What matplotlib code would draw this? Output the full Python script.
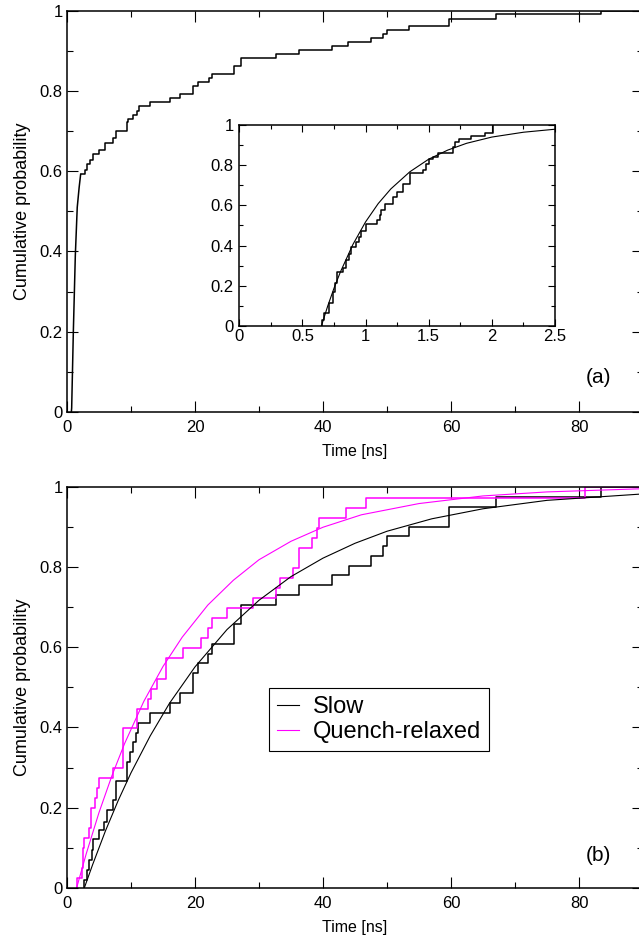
import matplotlib
matplotlib.use("Agg")
import matplotlib.pyplot as plt
from matplotlib.ticker import MultipleLocator, FormatStrFormatter

plt.rcParams["font.family"] = ["Liberation Sans", "DejaVu Sans"]

MAGENTA = "#ff00ff"

# (a) main panel: fast rise (drawn as a line) then step part
fast_t = [0.68, 0.73, 0.99, 1.3, 1.6, 1.9, 2.13]
fast_p = [0.0, 0.01, 0.2, 0.39, 0.51, 0.56, 0.592]
all_t = [2.81, 3.17, 3.59, 4.01, 5.05, 5.94, 7.24, 7.60, 9.32, 9.58,
         10.36, 10.99, 11.25, 12.97, 16.09, 17.66, 19.64, 20.52, 22.19, 22.60,
         26.09, 27.19, 32.66, 36.20, 41.35, 43.96, 47.45, 49.3, 50.05, 53.4,
         59.7, 67.1, 83.5]
all_p = [0.604, 0.617, 0.629, 0.642, 0.652, 0.671, 0.683, 0.701, 0.722, 0.731,
         0.741, 0.751, 0.762, 0.773, 0.782, 0.793, 0.812, 0.823, 0.832, 0.842,
         0.862, 0.881, 0.892, 0.901, 0.911, 0.921, 0.931, 0.941, 0.951, 0.961,
         0.980, 0.991, 1.0]

# (a) inset: fast events only, with fit
inset_t = [0.651, 0.672, 0.711, 0.743, 0.756, 0.775, 0.822, 0.848, 0.870, 0.888,
           0.922, 0.949, 0.967, 1.007, 1.091, 1.112, 1.125, 1.152, 1.217, 1.249,
           1.296, 1.349, 1.455, 1.481, 1.502, 1.534, 1.573, 1.692, 1.705, 1.739,
           1.837, 1.942, 2.008]
inset_p = [0.030, 0.066, 0.113, 0.171, 0.212, 0.267, 0.287, 0.328, 0.358, 0.395,
           0.420, 0.444, 0.474, 0.507, 0.527, 0.552, 0.577, 0.607, 0.640, 0.668,
           0.706, 0.760, 0.776, 0.806, 0.829, 0.842, 0.862, 0.892, 0.914, 0.929,
           0.945, 0.962, 1.0]
inset_fit_t = [0.65, 0.7, 0.75, 0.8, 0.9, 1.0, 1.1, 1.2, 1.35, 1.5, 1.65, 1.8, 2.0, 2.25, 2.5]
inset_fit_p = [0.0, 0.099, 0.188, 0.268, 0.406, 0.518, 0.609, 0.682, 0.767, 0.830,
               0.875, 0.909, 0.940, 0.964, 0.979]

# (b) slow vs quench-relaxed
slow_t = [2.66, 3.07, 3.49, 3.85, 4.11, 5.05, 5.83, 6.20, 7.24, 7.60,
          9.32, 9.84, 10.36, 10.78, 11.15, 12.97, 16.09, 17.66, 19.74, 20.52,
          22.08, 22.60, 26.09, 27.19, 32.66, 36.20, 41.35, 44.1, 47.5, 49.3,
          50.05, 53.4, 59.7, 67.1, 83.5]
slow_p = [0.020, 0.046, 0.071, 0.095, 0.121, 0.144, 0.165, 0.194, 0.219, 0.266,
          0.314, 0.340, 0.364, 0.387, 0.412, 0.437, 0.462, 0.486, 0.536, 0.560,
          0.583, 0.608, 0.658, 0.705, 0.730, 0.755, 0.780, 0.803, 0.828, 0.852,
          0.877, 0.900, 0.950, 0.975, 1.0]
quench_t = [1.51, 2.29, 2.45, 2.66, 3.49, 3.70, 4.38, 4.74, 5.05, 7.24,
            8.80, 10.89, 12.71, 13.07, 14.01, 15.47, 18.07, 20.89, 22.08, 22.60,
            24.95, 29.11, 32.66, 33.28, 35.26, 36.20, 38.23, 39.0, 39.4, 43.6,
            46.7, 80.9]
quench_p = [0.025, 0.049, 0.099, 0.124, 0.149, 0.199, 0.224, 0.248, 0.273, 0.298,
            0.398, 0.447, 0.472, 0.497, 0.522, 0.572, 0.597, 0.622, 0.647, 0.673,
            0.698, 0.723, 0.748, 0.773, 0.798, 0.848, 0.873, 0.897, 0.922, 0.947,
            0.973, 1.0]
slow_fit_t = [2.7, 4, 6, 8, 10, 13, 16, 20, 25, 30, 35, 40, 45, 50, 57, 65, 75, 90]
slow_fit_p = [0.0, 0.058, 0.142, 0.218, 0.287, 0.379, 0.460, 0.551, 0.644, 0.717,
              0.776, 0.822, 0.859, 0.889, 0.920, 0.945, 0.966, 0.982]
quench_fit_t = [1.5, 3, 5, 7, 9, 12, 15, 18, 22, 26, 30, 35, 40, 46, 55, 65, 75, 90]
quench_fit_p = [0.0, 0.085, 0.188, 0.279, 0.360, 0.465, 0.552, 0.625, 0.705, 0.767,
                0.818, 0.864, 0.899, 0.930, 0.958, 0.977, 0.987, 0.995]

XMAX = 90


def staircase(ax, t, p, start=None, end=None, **kw):
    # start: (x, y) point the steps begin from; default is (t[0], 0)
    if start is None:
        start = (t[0], 0.0)
    xs = [start[0]] + list(t)
    ys = [start[1]] + list(p)
    if end is not None:
        xs.append(end)
        ys.append(p[-1])
    return ax.step(xs, ys, where="post", **kw)


def style_axes(ax, xmajor, xminor, size=12, major_len=8, minor_len=4.5, xpad=6, ypad=3):
    ax.xaxis.set_major_locator(MultipleLocator(xmajor))
    ax.xaxis.set_minor_locator(MultipleLocator(xminor))
    ax.yaxis.set_major_locator(MultipleLocator(0.2))
    ax.yaxis.set_minor_locator(MultipleLocator(0.1))
    ax.yaxis.set_major_formatter(FormatStrFormatter("%g"))
    ax.xaxis.set_major_formatter(FormatStrFormatter("%g"))
    ax.tick_params(which="both", direction="in", top=True, right=True,
                   width=0.8, labelsize=size)
    ax.tick_params(which="major", length=major_len)
    ax.tick_params(which="minor", length=minor_len)
    ax.tick_params(axis="x", pad=xpad)
    ax.tick_params(axis="y", pad=ypad)
    for s in ax.spines.values():
        s.set_linewidth(1.1)


fig = plt.figure(figsize=(6.39, 9.49), dpi=100)
W, H = 639, 949


def place(left, top, right, bottom):
    return [left / W, 1 - bottom / H, (right - left) / W, (bottom - top) / H]


# ---- panel (a)
ax1 = fig.add_axes(place(67, 10.7, 643, 412))
ax1.plot(fast_t, fast_p, color="black", lw=1.1)
staircase(ax1, all_t, all_p, start=(fast_t[-1], fast_p[-1]), end=XMAX,
          color="black", lw=1.1)
ax1.set_xlim(0, XMAX)
ax1.set_ylim(0, 1)
style_axes(ax1, 20, 10)
ax1.set_xlabel("Time [ns]", fontsize=11.5, labelpad=6)
ax1.set_ylabel("Cumulative probability", fontsize=13, labelpad=6)
ax1.text(0.923, 0.087, "(a)", transform=ax1.transAxes, fontsize=15,
         ha="center", va="center")

ins = fig.add_axes(place(239.3, 125, 555, 326))
staircase(ins, inset_t, inset_p, color="black", lw=1.1)
ins.plot(inset_fit_t, inset_fit_p, color="black", lw=0.8)
ins.set_xlim(0, 2.5)
ins.set_ylim(0, 1)
style_axes(ins, 0.5, 0.25, major_len=5, minor_len=3, xpad=2, ypad=4)

# ---- panel (b)
ax2 = fig.add_axes(place(67, 486.7, 643, 888))
staircase(ax2, slow_t, slow_p, end=XMAX, color="black", lw=1.1)
staircase(ax2, quench_t, quench_p, end=XMAX, color=MAGENTA, lw=1.1)
ax2.plot(slow_fit_t, slow_fit_p, color="black", lw=0.8, label="Slow")
ax2.plot(quench_fit_t, quench_fit_p, color=MAGENTA, lw=0.8, label="Quench-relaxed")
ax2.set_xlim(0, XMAX)
ax2.set_ylim(0, 1)
style_axes(ax2, 20, 10)
ax2.set_xlabel("Time [ns]", fontsize=11.5, labelpad=6)
ax2.set_ylabel("Cumulative probability", fontsize=13, labelpad=6)
ax2.text(0.923, 0.082, "(b)", transform=ax2.transAxes, fontsize=15,
         ha="center", va="center")
leg = ax2.legend(loc="upper left", bbox_to_anchor=(0.351, 0.498), borderaxespad=0,
                 fontsize=17, handlelength=0.9, handletextpad=0.6,
                 borderpad=0.35, labelspacing=0.1, fancybox=False,
                 framealpha=1, edgecolor="black")
leg.get_frame().set_linewidth(0.8)

fig.savefig("out.png", dpi=100)
